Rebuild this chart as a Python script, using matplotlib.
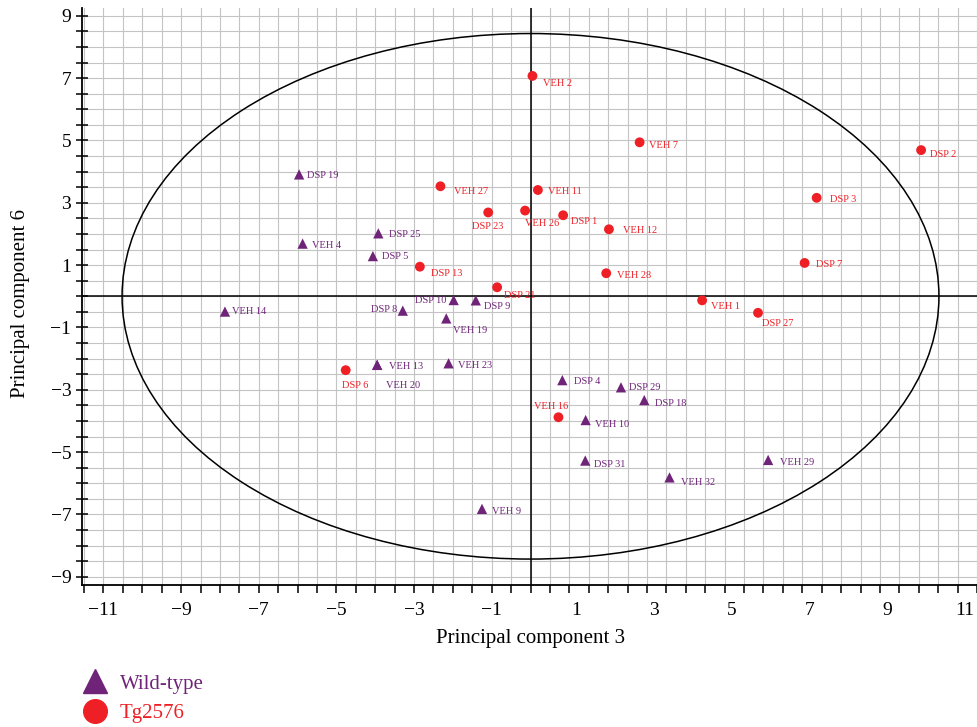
import matplotlib
matplotlib.use("Agg")
import matplotlib.pyplot as plt
from matplotlib.patches import Ellipse
from matplotlib.lines import Line2D
import matplotlib.transforms as mtransforms
import numpy as np

plt.rcParams['font.family'] = ['Liberation Serif', 'DejaVu Serif']

# ---- data ----
wt_names = ["DSP 19", "DSP 25", "VEH 4", "DSP 5", "DSP 10", "DSP 9", "DSP 8", "VEH 14",
            "VEH 19", "VEH 13", "VEH 20", "VEH 23", "DSP 4", "DSP 29", "DSP 18", "VEH 10",
            "DSP 31", "VEH 32", "VEH 29", "VEH 9"]
wt_pc3 = [-5.96, -3.92, -5.87, -4.06, -1.98, -1.41, -3.29, -7.87,
          -2.17, -3.95, -3.95, -2.11, 0.82, 2.33, 2.93, 1.42,
          1.41, 3.58, 6.12, -1.25]
wt_pc6 = [3.91, 2.02, 1.69, 1.29, -0.12, -0.13, -0.46, -0.49,
          -0.71, -2.20, -2.20, -2.15, -2.69, -2.92, -3.33, -3.97,
          -5.27, -5.81, -5.25, -6.82]

tg_names = ["VEH 2", "VEH 7", "DSP 2", "VEH 27", "VEH 11", "DSP 3", "DSP 23", "VEH 26",
            "DSP 1", "VEH 12", "DSP 13", "DSP 7", "VEH 28", "DSP 21", "VEH 1", "DSP 27",
            "DSP 6", "VEH 16"]
tg_pc3 = [0.05, 2.81, 10.06, -2.32, 0.19, 7.37, -1.09, -0.14,
          0.84, 2.02, -2.85, 7.06, 1.95, -0.86, 4.42, 5.86,
          -4.76, 0.72]
tg_pc6 = [7.07, 4.94, 4.69, 3.53, 3.41, 3.16, 2.69, 2.75,
          2.60, 2.15, 0.95, 1.07, 0.74, 0.29, -0.13, -0.53,
          -2.37, -3.88]

xtick_vals = [-11, -9, -7, -5, -3, -1, 1, 3, 5, 7, 9, 11]
ytick_vals = [-9, -7, -5, -3, -1, 1, 3, 5, 7, 9]
x_label = "Principal component 3"
y_label = "Principal component 6"
legend_labels = ["Wild-type", "Tg2576"]

# ---- layout / style (label offsets in pixels: right, down) ----
label_offsets = {
    "DSP 19": (8, 1), "DSP 25": (11, 1), "VEH 4": (9, 2), "DSP 5": (9, 0),
    "DSP 10": (-39, 0), "DSP 9": (8, 6), "DSP 8": (-32, -1), "VEH 14": (7, 0),
    "VEH 19": (7, 12), "VEH 13": (12, 2), "VEH 20": (9, 21), "VEH 23": (9, 2),
    "DSP 4": (12, 1), "DSP 29": (8, 0), "DSP 18": (11, 3), "VEH 10": (9, 4),
    "DSP 31": (9, 4), "VEH 32": (11, 5), "VEH 29": (12, 3), "VEH 9": (10, 3),
    "VEH 2": (11, 8), "VEH 7": (9, 3), "DSP 2": (9, 4), "VEH 27": (14, 5),
    "VEH 11": (10, 1), "DSP 3": (13, 2), "DSP 23": (-16, 14), "VEH 26": (0, 13),
    "DSP 1": (8, 6), "VEH 12": (14, 1), "DSP 13": (11, 7), "DSP 7": (11, 2),
    "VEH 28": (11, 2), "DSP 21": (7, 8), "VEH 1": (9, 6), "DSP 27": (4, 11),
    "DSP 6": (-4, 15), "VEH 16": (-24, -11),
}
PURPLE = "#6f2479"
RED = "#ee2026"
GRID = "#c4c4c4"

W, H = 977, 727
fig = plt.figure(figsize=(W / 100, H / 100), dpi=100)
ax_left, ax_right, ax_bottom, ax_top = 81.7, 977, 585, 8
ax = fig.add_axes([ax_left / W, (H - ax_bottom) / H,
                   (ax_right - ax_left) / W, (ax_bottom - ax_top) / H])
ax.set_xlim(-11.56, 11.46)
ax.set_ylim(-9.262, 9.249)

# grid
ax.set_xticks(np.arange(-11.5, 11.51, 0.5), minor=True)
ax.set_yticks(np.arange(-9, 9.01, 0.5), minor=True)
ax.set_xticks(xtick_vals)
ax.set_yticks(ytick_vals)
ax.grid(True, which='both', color=GRID, lw=0.8, zorder=0)
ax.set_axisbelow(True)

ax.set_xticklabels([("\u2212%d" % -v) if v < 0 else str(v) for v in xtick_vals])
ax.set_yticklabels([("\u2212%d" % -v) if v < 0 else str(v) for v in ytick_vals])
ax.tick_params(axis='x', which='both', direction='out', length=6, width=1.1,
               labelsize=14, pad=6, colors='black')
ax.tick_params(axis='y', which='both', direction='inout', length=9, width=1.1,
               labelsize=14, pad=3, colors='black')
# positive x tick labels sit slightly to the right in the reference
shift = mtransforms.ScaledTranslation(7 / 100, 0, fig.dpi_scale_trans)
for v, lab in zip(xtick_vals, ax.get_xticklabels()):
    if v > 0:
        lab.set_transform(lab.get_transform() + shift)

for s in ['top', 'right']:
    ax.spines[s].set_visible(False)
for s in ['left', 'bottom']:
    ax.spines[s].set_linewidth(1.3)
    ax.spines[s].set_color('black')

# axes lines through origin
ax.axhline(0, color='black', lw=1.1, zorder=2)
ax.axvline(0, color='black', lw=1.1, zorder=2)

# confidence ellipse
ax.add_patch(Ellipse((0, 0), 2 * 10.52, 2 * 8.43, fill=False, edgecolor='black',
                     lw=1.1, zorder=2))

ax.scatter(wt_pc3, wt_pc6, marker='^', s=55, color=PURPLE, edgecolors='none', zorder=4)
ax.scatter(tg_pc3, tg_pc6, marker='o', s=50, color=RED, edgecolors='none', zorder=4)

for names, xs, ys, col in [(wt_names, wt_pc3, wt_pc6, PURPLE),
                           (tg_names, tg_pc3, tg_pc6, RED)]:
    for n, x, y in zip(names, xs, ys):
        dx, dy = label_offsets[n]
        ax.annotate(n, (x, y), xytext=(dx, -dy), textcoords='offset pixels',
                    ha='left', va='center', fontsize=7.5, color=col, zorder=5)

fig.text(531 / W, 1 - 638 / H, x_label, ha='center', va='center', fontsize=15)
fig.text(21 / W, 1 - 303 / H, y_label, ha='center', va='center', fontsize=15,
         rotation=90)

# legend
handles = [Line2D([], [], marker='^', ls='none', color=PURPLE, markersize=17),
           Line2D([], [], marker='o', ls='none', color=RED, markersize=17)]
leg = fig.legend(handles, legend_labels, loc='upper left',
                 bbox_to_anchor=(82.5 / W, 1 - 674 / H), frameon=False,
                 fontsize=15, handlelength=1.2, handletextpad=0.6,
                 labelspacing=0.47, borderpad=0, borderaxespad=0)
for t, c in zip(leg.get_texts(), [PURPLE, RED]):
    t.set_color(c)

fig.savefig("out.png", dpi=100)
